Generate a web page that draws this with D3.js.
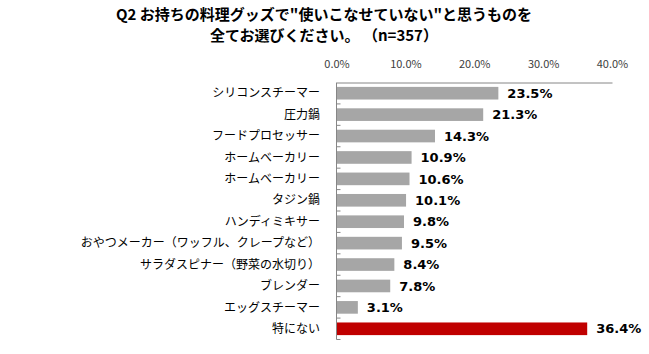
<!DOCTYPE html>
<html>
<head>
<meta charset="utf-8">
<script src="https://cdn.jsdelivr.net/npm/d3@7"></script>
<style>
  body { margin: 0; background: #fff; }
  svg { display: block; }
</style>
</head>
<body>
<svg id="chart"></svg>
<script>
const categories = [
  "シリコンスチーマー", "圧力鍋", "フードプロセッサー", "ホームベーカリー", "ホームベーカリー",
  "タジン鍋", "ハンディミキサー", "おやつメーカー（ワッフル、クレープなど）",
  "サラダスピナー（野菜の水切り）", "ブレンダー", "エッグスチーマー", "特にない"
]
const values = [23.5, 21.3, 14.3, 10.9, 10.6, 10.1, 9.8, 9.5, 8.4, 7.8, 3.1, 36.4]
const xTicks = [0, 10, 20, 30, 40]
const titleLines = ["Q2 お持ちの料理グッズで\"使いこなせていない\"と思うものを", "全てお選びください。 （n=357）"]

const width = 649, height = 354
const jp = "'Noto Sans CJK JP', 'Noto Sans', sans-serif"

const svg = d3.select("#chart").attr("width", width).attr("height", height)

const x = d3.scaleLinear().domain([0, 40]).range([336.5, 612])
const y = d3.scaleBand().domain(d3.range(categories.length)).range([82.5, 339.5])
  .paddingInner(0.41).paddingOuter(0.205)

// title
svg.selectAll("text.title").data(titleLines).join("text")
  .attr("class", "title")
  .attr("x", 324).attr("y", (d, i) => 14.5 + i * 21)
  .attr("dy", "0.35em")
  .attr("text-anchor", "middle")
  .style("font-family", jp).style("font-weight", "bold").style("font-size", "15px")
  .attr("fill", "#000")
  .text(d => d)

// top axis
const xAxis = svg.append("g").attr("transform", "translate(0,82.5)")
  .call(d3.axisTop(x).tickValues(xTicks).tickSize(0).tickPadding(15).tickFormat(d => d.toFixed(1) + "%"))
xAxis.select(".domain").attr("stroke", "#868686")
xAxis.selectAll("text").style("font-family", jp).style("font-size", "11px").attr("fill", "#404040")

// bars
svg.selectAll("rect.bar").data(values).join("rect")
  .attr("class", "bar")
  .attr("x", x(0))
  .attr("y", (d, i) => y(i))
  .attr("width", d => x(d) - x(0))
  .attr("height", y.bandwidth())
  .attr("fill", (d, i) => i === values.length - 1 ? "#c00000" : "#a6a6a6")

// left axis line + boundary ticks
const [y0, y1] = y.range()
svg.append("line").attr("x1", x(0)).attr("x2", x(0)).attr("y1", y0).attr("y2", y1)
  .attr("stroke", "#868686")
svg.selectAll("line.tick").data(d3.range(1, categories.length + 1)).join("line")
  .attr("class", "tick")
  .attr("x1", x(0)).attr("x2", x(0) + 4)
  .attr("y1", d => y0 + d * y.step()).attr("y2", d => y0 + d * y.step())
  .attr("stroke", "#868686")

// category labels
svg.selectAll("text.cat").data(categories).join("text")
  .attr("class", "cat")
  .attr("x", 320).attr("y", (d, i) => y(i) + y.bandwidth() / 2)
  .attr("dy", "0.35em").attr("text-anchor", "end")
  .style("font-family", jp).style("font-size", "12px")
  .attr("fill", "#000")
  .text(d => d)

// value labels
svg.selectAll("text.val").data(values).join("text")
  .attr("class", "val")
  .attr("x", d => x(d) + 9).attr("y", (d, i) => y(i) + y.bandwidth() / 2)
  .attr("dy", "0.36em")
  .style("font-family", "'DejaVu Sans', sans-serif").style("font-weight", "bold").style("font-size", "13px")
  .attr("fill", "#000")
  .text(d => d.toFixed(1) + "%")
</script>
</body>
</html>
